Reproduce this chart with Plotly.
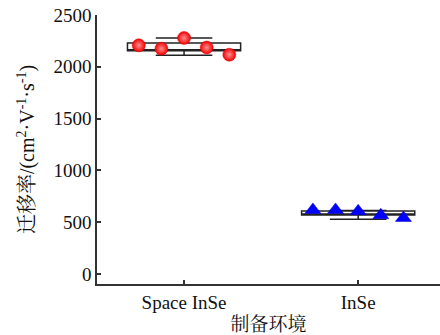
import plotly.graph_objects as go

categories = ["Space InSe", "InSe"]
space_vals = [2207, 2175, 2278, 2186, 2117]
inse_vals = [618, 618, 605, 567, 541]
# box stats: q1, median, q3, lower whisker, upper whisker
q1 = [2155, 568]
median = [2155, 568]
q3 = [2230, 607]
lower = [2111, 528]
upper = [2278, 612]
y_ticks = [0, 500, 1000, 1500, 2000, 2500]

serif = "Liberation Serif, Times New Roman, Noto Serif CJK SC, Noto Sans CJK SC, serif"
offsets = [-0.26, -0.13, 0.0, 0.13, 0.26]

fig = go.Figure()
for i, cat in enumerate(categories):
    fig.add_trace(go.Box(
        x=[i], q1=[q1[i]], median=[median[i]], q3=[q3[i]],
        lowerfence=[lower[i]], upperfence=[upper[i]],
        width=0.65, whiskerwidth=0.5,
        fillcolor="white", line=dict(color="#222222", width=1.5),
        boxpoints=False, showlegend=False, hoverinfo="skip",
    ))

fig.add_trace(go.Scatter(
    x=[0 + o for o in offsets], y=space_vals, mode="markers",
    marker=dict(symbol="circle", size=13, color="#f40000",
                gradient=dict(type="radial", color="#ff9090"),
                line=dict(color="#e00000", width=0.5)),
    showlegend=False,
))
fig.add_trace(go.Scatter(
    x=[1 + o for o in offsets], y=inse_vals, mode="markers",
    marker=dict(symbol="triangle-up", size=14, color="#0000ff",
                line=dict(color="#0000dd", width=0.5)),
    showlegend=False,
))

fig.update_layout(
    width=440, height=335,
    margin=dict(l=97, r=0, t=15, b=51),
    plot_bgcolor="white", paper_bgcolor="white",
    font=dict(family=serif, size=19, color="#111111"),
)
fig.update_xaxes(
    range=[-0.5, 1.47], tickvals=[0, 1], ticktext=categories,
    ticks="inside", ticklen=4, tickcolor="#333333", tickwidth=1.5,
    showline=True, linecolor="#333333", linewidth=1.5,
    showgrid=False, zeroline=False, automargin=False,
    title=dict(text="制备环境", font=dict(size=19), standoff=12),
)
fig.update_yaxes(
    range=[-97, 2500], tickvals=y_ticks,
    ticks="inside", ticklen=4, tickcolor="#333333", tickwidth=1.5,
    showline=True, linecolor="#333333", linewidth=1.5,
    showgrid=False, zeroline=False, automargin=False,
    title=dict(text="迁移率/(cm<sup>2</sup>·V<sup>-1</sup>·s<sup>-1</sup>)", font=dict(size=20), standoff=13),
)

fig.write_html("out.html", config={"displayModeBar": False},
               post_script="document.body.style.margin='0px';")
